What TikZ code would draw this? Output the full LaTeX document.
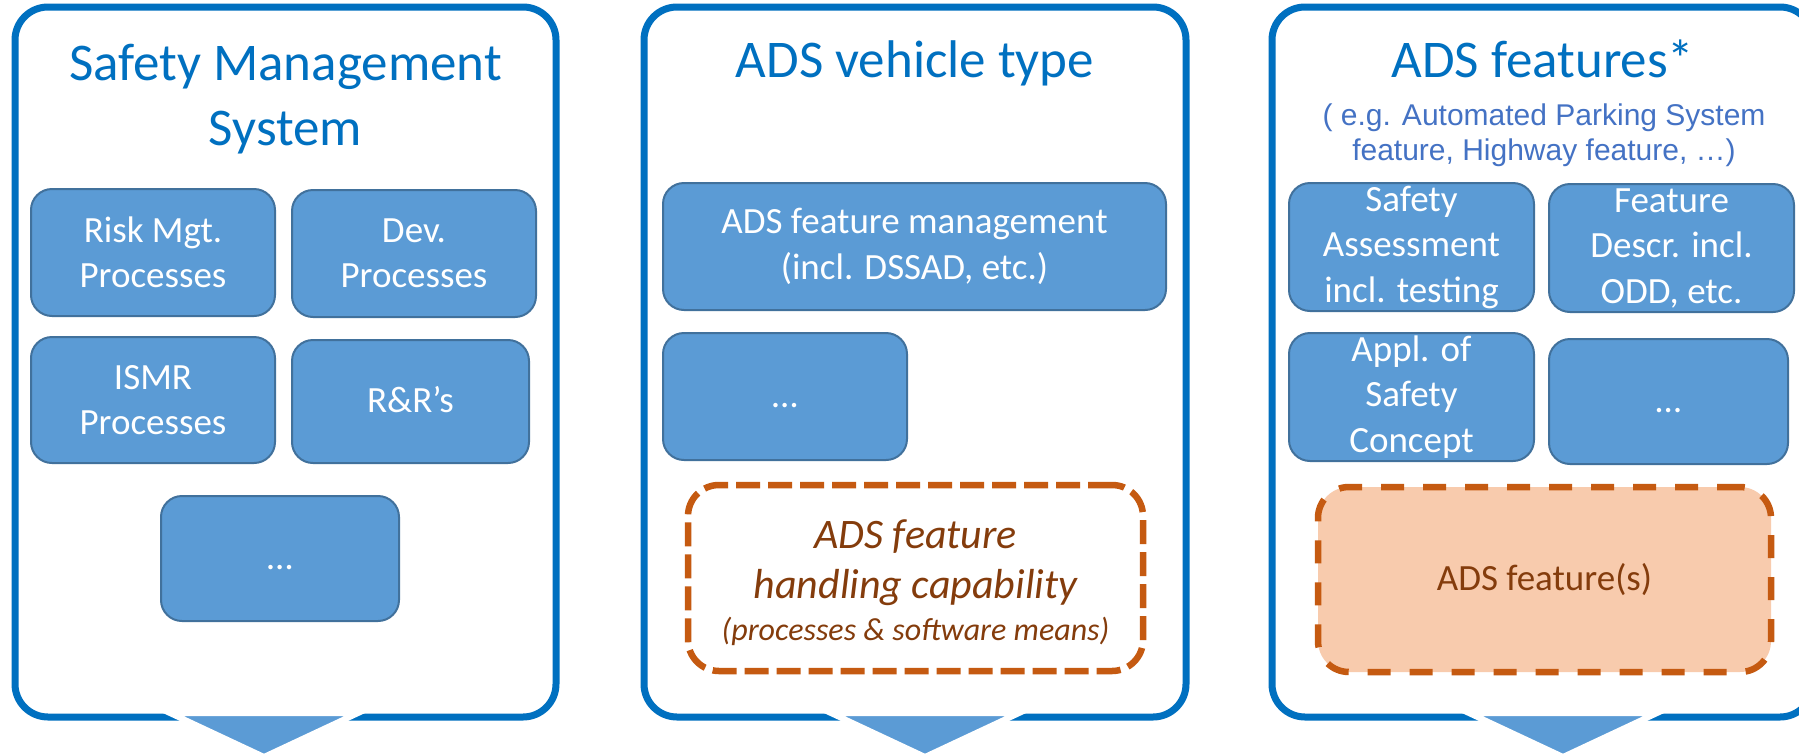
\documentclass[tikz,border=0pt]{standalone}
\usepackage{fontspec}
\setmainfont{Carlito}
\newfontfamily\arialfont{Liberation Sans}
\definecolor{panelblue}{HTML}{0070C0}
\definecolor{boxfill}{HTML}{5B9BD5}
\definecolor{boxline}{HTML}{41719C}
\definecolor{dashline}{HTML}{C55A11}
\definecolor{dashfill}{HTML}{F8CBAD}
\definecolor{browntext}{HTML}{843C0C}
\definecolor{subblue}{HTML}{4472C4}
\tikzset{
  panel/.style={draw=panelblue, line width=7pt, rounded corners=33pt, fill=white, inner sep=0pt},
  bluebox/.style={draw=boxline, fill=boxfill, line width=2pt, rounded corners=21pt, text=white,
    align=center, inner sep=0pt, font=\fontsize{37}{45.5}\selectfont},
  oneline/.style={text height=29pt, text depth=7pt},
  dashbox/.style={draw=dashline, line width=6.5pt, rounded corners=31pt, inner sep=0pt},
  titletext/.style={text=panelblue, align=center, inner sep=0pt, font=\fontsize{53}{65}\selectfont},
  downarrow/.style={fill=boxfill, draw=white, line width=6pt, line join=miter}
}
\begin{document}
\begin{tikzpicture}[x=1pt,y=-1pt]
\useasboundingbox (0,0) rectangle (1799,753);
\fill[white] (0,0) rectangle (1799,753);

% ---------- Panel 1 ----------
\node[panel, minimum width=541pt, minimum height=710pt] (p1) at (285.5,362) {};
\node[titletext] (t1) at (285.5,99) {Safety Management\\System};
\node[bluebox, minimum width=244pt, minimum height=127pt] (risk) at (153,252.5) {Risk Mgt.\\Processes};
\node[bluebox, minimum width=244pt, minimum height=127pt] (dev) at (414,253.5) {Dev.\\Processes};
\node[bluebox, minimum width=244pt, minimum height=126pt] (ismr) at (153,400) {ISMR\\Processes};
\node[bluebox, oneline, minimum width=237pt, minimum height=123pt] (rr) at (410.5,401.5) {R\&R’s};
\node[bluebox, oneline, minimum width=238pt, minimum height=125pt] (dotsa) at (280,558.5) {…};
\filldraw[downarrow] (170,713) -- (358,713) -- (264,757) -- cycle;

% ---------- Panel 2 ----------
\node[panel, minimum width=542pt, minimum height=710pt] (p2) at (915,362) {};
\node[titletext, anchor=base] (t2) at (915,77) {ADS vehicle type};
\node[bluebox, minimum width=503pt, minimum height=127pt] (fm) at (914.5,246.5) {ADS feature management\\(incl. DSSAD, etc.)};
\node[bluebox, oneline, minimum width=244pt, minimum height=127pt] (dotsb) at (785,396.5) {…};
\node[dashbox, dash pattern=on 24pt off 8pt, minimum width=455pt, minimum height=186pt] (cap) at (915.5,578) {};
\node[text=browntext, align=center, inner sep=0pt, font=\fontsize{42}{50}\selectfont\itshape] (captext) at (915.5,583)
  {ADS feature\\handling capability\\[-8pt]\fontsize{32}{50}\selectfont (processes \& software means)};
\filldraw[downarrow] (831,713) -- (1019,713) -- (925,757) -- cycle;

% ---------- Panel 3 ----------
\node[panel, minimum width=541pt, minimum height=710pt] (p3) at (1542.5,362) {};
\node[titletext, anchor=base] (t3) at (1543,77) {ADS features*};
\node[text=subblue, align=center, inner sep=0pt, font=\arialfont\fontsize{30}{35}\selectfont] (sub) at (1544,135)
  {( e.g. Automated Parking System\\feature, Highway feature, …)};
\node[bluebox, minimum width=245pt, minimum height=128pt] (sa) at (1411.5,247) {Safety\\Assessment\\incl. testing};
\node[bluebox, minimum width=245pt, minimum height=128pt] (fd) at (1671.5,248) {Feature\\Descr. incl.\\ODD, etc.};
\node[bluebox, minimum width=245pt, minimum height=128pt] (asc) at (1411.5,397) {Appl. of\\Safety\\Concept};
\node[bluebox, oneline, minimum width=239pt, minimum height=125pt] (dotsc) at (1668.5,401.5) {…};
\node[dashbox, fill=dashfill, dash pattern=on 23pt off 19pt, minimum width=453pt, minimum height=185pt,
  text=browntext, font=\fontsize{37}{45.5}\selectfont, oneline] (feat) at (1544.5,579.5) {ADS feature(s)};
\filldraw[downarrow] (1469,713) -- (1657,713) -- (1563,757) -- cycle;
\end{tikzpicture}
\end{document}
